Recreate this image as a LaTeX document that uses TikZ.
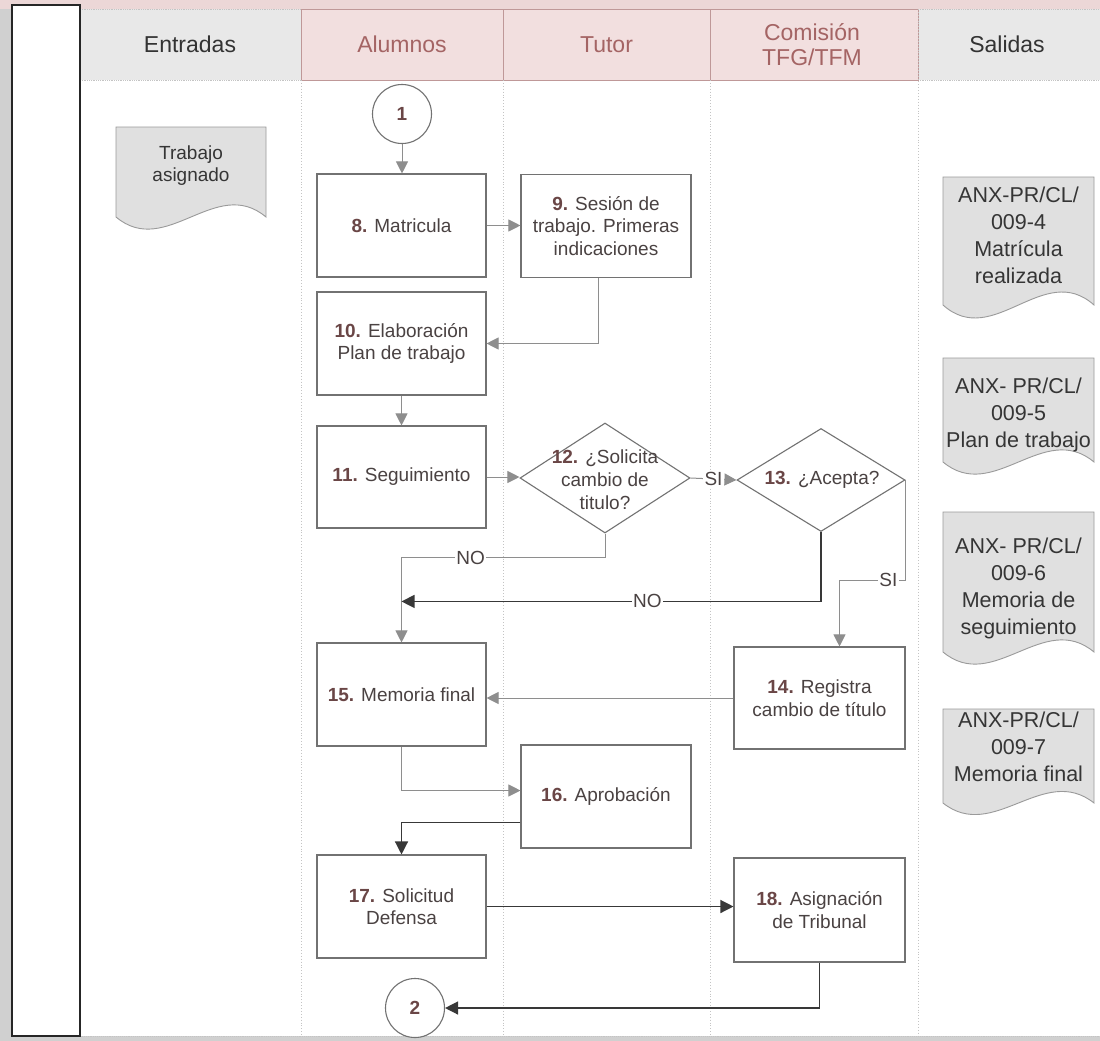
\documentclass[tikz,border=0pt]{standalone}
\usepackage{fontspec}
\setmainfont{Liberation Sans}
\usetikzlibrary{shapes.geometric,arrows.meta,calc}
\definecolor{numcol}{HTML}{6A4646}
\definecolor{txtcol}{HTML}{4A4242}
\definecolor{doctxt}{HTML}{353535}
\definecolor{hdrpink}{HTML}{F2DFDF}
\definecolor{topband}{HTML}{ECD7D7}
\definecolor{hdrtxt}{HTML}{A46464}
\definecolor{hdrline}{HTML}{BF9898}
\definecolor{hdrgray}{HTML}{E8E8E8}
\definecolor{boxline}{HTML}{727272}
\definecolor{docfill}{HTML}{E0E0E0}
\definecolor{docline}{HTML}{9A9A9A}
\definecolor{garrow}{HTML}{8E8E8E}
\definecolor{darrow}{HTML}{383838}
\definecolor{lanecol}{HTML}{C4C4C4}
\definecolor{outercol}{HTML}{D0D0D0}
\newcommand{\numb}[1]{{\bfseries\color{numcol}#1}}
\newcommand{\docpath}[5]{%
  \filldraw[fill=docfill, draw=docline, line width=0.9pt] (#1,#2) -- (#3,#2) -- (#3,#4)
   .. controls ({#3-(#3-#1)/3},{#4-#5}) and ({#1+(#3-#1)/3},{#4+#5}) .. (#1,#4) -- cycle;}
\begin{document}
\begin{tikzpicture}[x=1pt,y=-1pt,
  every node/.style={font=\fontsize{19}{22.5}\selectfont, text=txtcol},
  box/.style={draw=boxline, line width=1.1pt, fill=white, minimum width=169pt,
    minimum height=103pt, inner sep=0pt, align=center},
  dia/.style={draw=boxline, line width=1.1pt, fill=white, shape=diamond, inner sep=0pt},
  conn/.style={draw=boxline, line width=1.1pt, fill=white, circle, minimum size=59pt,
    inner sep=0pt, font=\bfseries\fontsize{19}{22}\selectfont, text=numcol},
  garr/.style={draw=garrow, line width=1pt, -{Triangle[length=12pt,width=12pt]}},
  darr/.style={draw=darrow, line width=1.3pt, -{Triangle[length=13pt,width=13pt]}},
  lbl/.style={fill=white, inner sep=1.5pt},
  hdrt/.style={font=\fontsize{23}{25}\selectfont, align=center},
  doct/.style={font=\fontsize{21.5}{27}\selectfont, align=center, text=doctxt}
]
\useasboundingbox (0,0) rectangle (1100,1041);
% background
\fill[outercol] (0,0) rectangle (1100,1041);
\fill[topband] (0,0) rectangle (1100,9);
\fill[white] (80,80) rectangle (1100,1036);
% header cells
\fill[hdrgray] (80,9) rectangle (301,80);
\fill[hdrpink] (301,9) rectangle (918,80);
\fill[hdrgray] (918,9) rectangle (1100,80);
\draw[lanecol, densely dotted, line width=0.8pt] (80,9) -- (301,9) (918,9) -- (1100,9)
  (80,80) -- (301,80) (918,80) -- (1100,80);
\draw[hdrline, line width=0.9pt] (301,9) rectangle (503,80) (503,9) rectangle (710,80)
  (710,9) rectangle (918,80);
% lane dividers
\draw[lanecol, dotted, line width=0.9pt] (301,80) -- (301,1036) (503,80) -- (503,1036)
  (710,80) -- (710,1036) (918,9) -- (918,1036);
\draw[lanecol, densely dotted, line width=0.9pt] (80,1036) -- (1100,1036);
% left column
\draw[black!85, line width=2pt, fill=white] (12,5) rectangle (80,1036);
% header texts
\node[hdrt, text=black!80] (hE) at (190,44.5) {Entradas};
\node[hdrt, text=hdrtxt] (hA) at (402,44.5) {Alumnos};
\node[hdrt, text=hdrtxt] (hT) at (606.5,44.5) {Tutor};
\node[hdrt, text=hdrtxt] (hC) at (812,44.5) {Comisión\\TFG/TFM};
\node[hdrt, text=black!80] (hS) at (1007,44.5) {Salidas};
% documents
\docpath{116}{127}{266}{217}{42}
\node[doct, font=\fontsize{19}{22}\selectfont] (dIn) at (191,166) {Trabajo\\asignado};
\docpath{943}{177}{1094}{305}{45}
\node[doct] (dO1) at (1018.5,235) {ANX-PR/CL/\\009-4\\Matrícula\\realizada};
\docpath{943}{358}{1094}{462}{42}
\node[doct] (dO2) at (1018.5,415) {ANX- PR/CL/\\009-5\\Plan de trabajo};
\docpath{943}{512}{1094}{652}{42}
\node[doct] (dO3) at (1018.5,588) {ANX- PR/CL/\\009-6\\Memoria de\\seguimiento};
\docpath{943}{709}{1094}{803}{40}
\node[doct] (dO4) at (1018.5,747) {ANX-PR/CL/\\009-7\\Memoria final};
% process nodes
\node[conn] (c1) at (402,114) {1};
\node[box] (n8) at (401.5,225.5) {\numb{8.} Matricula};
\node[box, minimum width=170pt] (n9) at (606,226) {\numb{9.} Sesión de\\trabajo. Primeras\\indicaciones};
\node[box] (n10) at (401.5,343.5) {\numb{10.} Elaboración\\Plan de trabajo};
\node[box, minimum height=102pt] (n11) at (401.5,477) {\numb{11.} Seguimiento};
\node[dia, minimum width=170pt, minimum height=110pt] (n12) at (605,478) {};
\node[align=center, font=\fontsize{19}{23}\selectfont] (t12) at (605,480) {\numb{12.} ¿Solicita\\cambio de\\titulo?};
\node[dia, minimum width=168pt, minimum height=103pt] (n13) at (821,480) {};
\node (t13) at (822,480) {\numb{13.} ¿Acepta?};
\node[box, minimum width=171pt, minimum height=102pt] (n14) at (819.5,698) {\numb{14.} Registra\\cambio de título};
\node[box] (n15) at (401.5,694.5) {\numb{15.} Memoria final};
\node[box, minimum width=170pt] (n16) at (606,796.5) {\numb{16.} Aprobación};
\node[box] (n17) at (401.5,906.5) {\numb{17.} Solicitud\\Defensa};
\node[box, minimum width=171pt, minimum height=104pt] (n18) at (819.5,910) {\numb{18.} Asignación\\de Tribunal};
\node[conn] (c2) at (415,1008) {2};
% connectors
\draw[garr] (c1.south) -- (c1.south |- n8.north);
\draw[garr] (n8.east) -- (n8.east -| n9.west);
\draw[garr] ([xshift=-8pt]n9.south) |- (n10.east);
\draw[garr] (n10.south) -- (n11.north);
\draw[garr] (n11.east) -- (n11.east -| n12.west);
\draw[garr] (n12.east) -- node[lbl]{SI} (n13.west);
\draw[garr] (n12.south) -- ++(0,24) -| node[lbl,pos=0.33]{NO} (n15.north);
\path (n15.north) ++(0,-41) coordinate (j1);
\draw[darr] (n13.south) |- node[lbl,pos=0.707]{NO} (j1);
\draw[garr] (n13.east) -- ++(0,100) -| node[lbl,pos=0.13]{SI} ([xshift=20pt]n14.north);
\draw[garr] (n14.west) -- (n14.west -| n15.east);
\draw[garr] (n15.south) |- ([yshift=6pt]n16.west);
\draw[darr] ([yshift=-26pt]n16.west) -| (n17.north);
\draw[darr] (n17.east) -- (n17.east -| n18.west);
\draw[darr] (n18.south) |- (c2.east);
\end{tikzpicture}
\end{document}
